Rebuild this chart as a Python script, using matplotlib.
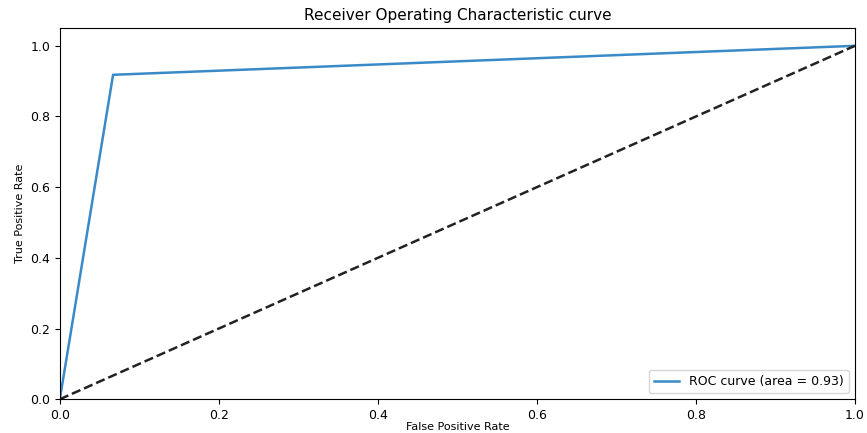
import matplotlib
matplotlib.use("Agg")
import matplotlib.pyplot as plt

# ROC curve points
fpr = [0.0, 0.067, 1.0]
tpr = [0.0, 0.918, 1.0]
roc_auc = 0.93

chance = [0.0, 1.0]

fig = plt.figure(figsize=(8.67, 4.33), dpi=100)
ax = fig.add_axes([0.069, 0.078, 0.917, 0.857])

ax.plot(fpr, tpr, color="#3a8ac8", lw=1.8, label=f"ROC curve (area = {roc_auc:.2f})")
ax.plot(chance, chance, color="#222222", lw=1.8, linestyle="--")

ax.set_xlim(0.0, 1.0)
ax.set_ylim(0.0, 1.05)
ax.set_xlabel("False Positive Rate", fontsize=8, labelpad=0)
ax.set_ylabel("True Positive Rate", fontsize=8)
ax.set_title("Receiver Operating Characteristic curve", fontsize=11, pad=6)
ax.tick_params(labelsize=9)
ax.legend(loc="lower right", fontsize=9)

fig.savefig("out.png", dpi=100)
